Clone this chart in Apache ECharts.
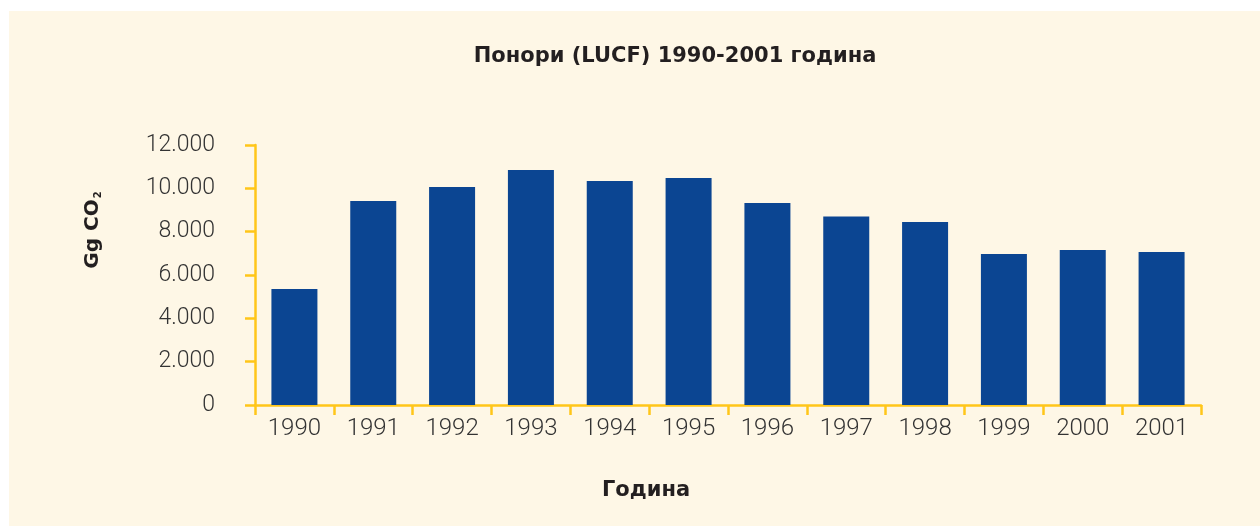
<!DOCTYPE html>
<html>
<head>
<meta charset="utf-8">
<script src="https://cdn.jsdelivr.net/npm/echarts@6/dist/echarts.min.js"></script>
<style>
  html, body { margin: 0; padding: 0; background: #ffffff; }
  #main { width: 1260px; height: 526px; }
</style>
</head>
<body>
<div id="main"></div>
<script>
// години и понори (Gg CO2), отчитано од сликата
var years = ["1990", "1991", "1992", "1993", "1994", "1995", "1996", "1997", "1998", "1999", "2000", "2001"];
var sinks = [5350, 9410, 10060, 10850, 10340, 10480, 9320, 8700, 8450, 6970, 7150, 7060];
var yTicks = [0, 2000, 4000, 6000, 8000, 10000, 12000];

var chart = echarts.init(document.getElementById("main"));

var gold = "#FFC61A";
var boldFont = "DejaVu Sans";

var option = {
  backgroundColor: "#ffffff",
  animation: false,
  title: [
    {
      text: "Понори (LUCF) 1990-2001 година",
      left: 670,
      top: 41,
      textAlign: "center",
      textStyle: { fontFamily: boldFont, fontWeight: "bold", fontSize: 21, color: "#231f20" }
    },
    {
      text: "Година",
      left: 641,
      top: 475,
      textAlign: "center",
      textStyle: { fontFamily: boldFont, fontWeight: "bold", fontSize: 21, color: "#231f20" }
    }
  ],
  graphic: [
    {
      type: "rect",
      z: -10,
      shape: { x: 9, y: 11, width: 1260, height: 526 },
      style: { fill: "#FEF7E6" }
    },
    {
      type: "text",
      x: 93,
      y: 230,
      rotation: Math.PI / 2,
      style: {
        text: "Gg CO{s|2}",
        align: "center",
        verticalAlign: "middle",
        fontFamily: boldFont,
        fontWeight: "bold",
        fontSize: 20,
        fill: "#231f20",
        rich: {
          s: { fontFamily: boldFont, fontWeight: "bold", fontSize: 10, fill: "#231f20", padding: [10, 0, 0, 1] }
        }
      }
    }
  ],
  grid: { left: 255, right: 59, top: 145, bottom: 121, containLabel: false },
  xAxis: {
    type: "category",
    data: years,
    axisLine: { lineStyle: { color: gold, width: 2.5 } },
    axisTick: { show: true, alignWithLabel: false, length: 10, lineStyle: { color: gold, width: 2.5 } },
    axisLabel: { margin: 12, fontFamily: "Roboto", fontWeight: 300, fontSize: 24, color: "#333333" }
  },
  yAxis: {
    type: "value",
    min: 0,
    max: 12000,
    interval: 2000,
    splitLine: { show: false },
    axisLine: { show: true, lineStyle: { color: gold, width: 2.5 } },
    axisTick: { show: true, length: 10, lineStyle: { color: gold, width: 2.5 } },
    axisLabel: {
      margin: 40,
      fontFamily: "Roboto",
      fontWeight: 300,
      fontSize: 23,
      color: "#333333",
      formatter: function (v) {
        if (yTicks.indexOf(v) < 0) return "";
        return v === 0 ? "0" : (v / 1000) + ".000";
      }
    }
  },
  series: [
    {
      type: "bar",
      data: sinks,
      barWidth: 46,
      itemStyle: { color: "#0B4592" }
    }
  ]
};

chart.setOption(option);
</script>
</body>
</html>
